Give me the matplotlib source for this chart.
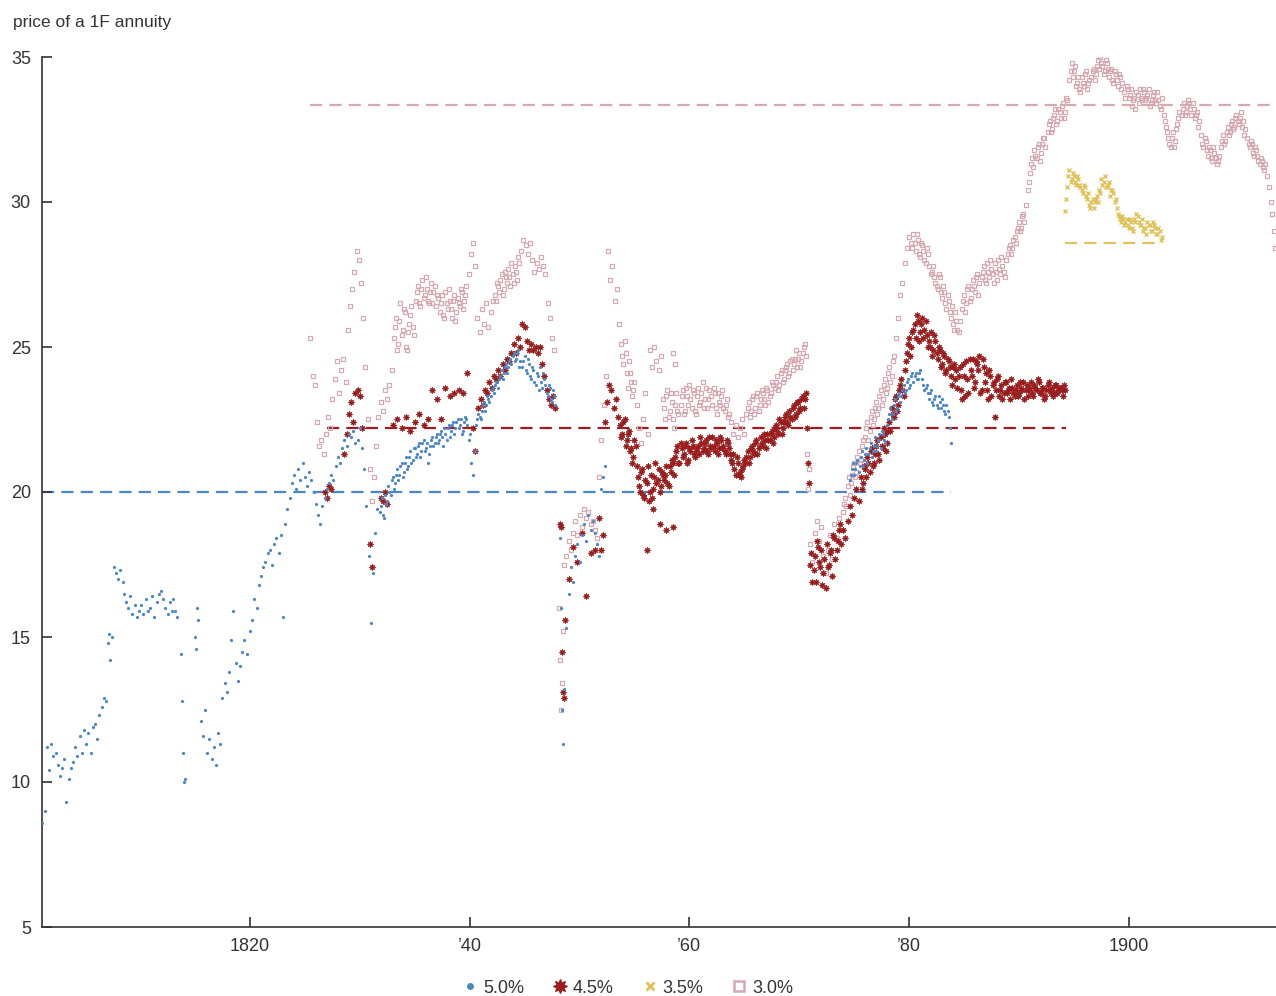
import numpy as np
import matplotlib.pyplot as plt
from matplotlib.lines import Line2D

plt.rcParams['font.family'] = ['Liberation Sans', 'DejaVu Sans']

# Paris rentes quotes, grouped in runs: (first year, spacing in years, prices)
rente_50 = [
    (1801.1, 0.2, [8.6, 9.0, 11.2, 10.4, 11.3, 10.9, 11.0, 10.6, 10.2, 10.5, 10.8, 9.3, 10.1, 10.5, 10.7,
                   11.2, 10.9, 11.6, 11.0, 11.8, 11.3, 11.7, 11.0, 11.9, 12.0, 11.5, 12.3, 12.6, 12.9, 12.8]),
    (1807.1, 0.1, [14.8, 15.1, 14.2, 15.0]),
    (1807.6, 0.2, [17.4, 17.2, 17.0, 17.3, 16.9]),
    (1808.5, 0.2, [16.5, 16.2, 16.0, 16.4, 15.8, 16.1, 15.7, 15.9]),
    (1810.1, 0.2, [16.1, 15.8, 16.3, 15.9, 16.0, 16.4, 15.7, 16.2, 16.5, 16.6, 16.3, 16.0, 15.8, 16.2, 15.9]),
    (1813.0, 0.2, [16.3, 15.9, 15.7]),
    (1813.7, 0.1, [14.4, 12.8, 11.0, 10.0, 10.1]),
    (1815.0, 0.1, [15.0, 14.6, 16.0, 15.6]),
    (1815.5, 0.2, [12.1, 11.6, 12.5, 11.0, 11.5, 10.8, 11.2, 10.6, 11.7, 11.3]),
    (1817.5, 0.2, [12.9, 13.4, 13.1, 13.8, 14.9, 15.9, 14.1, 13.5, 14.0, 14.5, 14.9, 14.4]),
    (1820.0, 0.2, [15.2, 15.6, 16.3, 16.0, 16.8, 17.1, 17.4, 17.6, 17.9, 18.0, 17.5, 18.2, 18.4, 17.9]),
    (1822.8, 0.2, [18.5, 15.7, 18.9, 19.4, 19.8, 20.3, 20.6, 20.1, 20.8, 20.4, 21.0, 20.5, 20.2, 20.7, 20.4]),
    (1825.8, 0.2, [20.0, 19.6, 19.2, 18.9, 19.5, 19.8, 20.1]),
    (1827.2, 0.2, [20.3, 20.6, 20.4, 20.9, 21.2, 21.0, 21.5, 21.8, 21.6, 22.0, 21.9, 22.1, 21.7, 21.8, 22.2, 21.5]),
    (1830.4, 0.2, [20.8, 19.5, 17.8, 15.5, 17.2, 18.6, 19.4]),
    (1831.8, 0.2, [19.3, 19.8, 19.1, 19.6, 20.2, 19.9, 20.5, 20.3, 20.8, 20.6, 21.0, 20.7, 21.2, 20.9,
                   21.4, 21.1, 21.5, 21.3, 21.7, 21.4, 21.8, 21.5, 21.0, 21.6, 21.9, 21.7, 22.0, 21.8,
                   22.1, 21.6, 22.0, 22.2, 21.9, 22.3, 22.0, 22.4, 22.2, 22.5, 22.1, 22.6, 22.3, 22.0]),
    (1831.9, 0.2, [19.5, 19.2, 19.9, 19.7, 20.0, 20.4, 20.1, 20.6, 20.4, 20.9, 20.5, 21.0, 20.8, 21.2,
                   21.0, 21.5, 21.2, 21.6, 21.2, 21.7, 21.4, 21.7, 21.3, 21.8, 21.6, 21.9, 21.7, 22.0,
                   21.9, 22.2, 21.8, 22.3, 22.1, 22.4, 22.2, 22.5, 22.3, 22.0, 22.4, 22.5, 21.8]),
    (1840.1, 0.2, [21.0, 20.6, 21.4]),
    (1840.6, 0.2, [22.3, 22.7, 22.5, 23.0, 22.8, 23.3, 23.1, 23.5, 23.4, 23.8, 23.6, 24.0, 23.9, 24.3,
                   24.1, 24.5, 24.4, 24.8, 24.6, 24.9, 24.5]),
    (1840.7, 0.2, [22.5, 22.6, 22.8, 23.1, 23.0, 23.2, 23.3, 23.6, 23.7, 23.8, 23.9, 24.2, 24.1, 24.4,
                   24.3, 24.6, 24.7, 24.5, 24.8, 24.3]),
    (1844.8, 0.2, [24.3, 24.7, 24.1, 24.4, 23.9, 24.2, 23.7, 24.0, 24.3, 23.6, 23.9, 23.4, 23.7, 23.2, 23.5, 23.0]),
    (1844.9, 0.2, [24.5, 24.2, 24.6, 24.0, 24.3, 23.8, 24.1, 23.5, 23.8, 24.1, 23.7, 23.3, 23.6, 23.1, 23.3]),
    (1848.2, 0.1, [18.4, 16.0, 12.5, 11.3, 13.2]),
    (1848.8, 0.2, [15.3, 16.5, 17.4, 16.9, 17.8, 18.2, 17.6, 18.5, 18.9, 18.3, 19.2, 18.7, 19.0, 18.6, 18.2, 17.8]),
    (1852.0, 0.15, [20.1, 20.5, 20.9]),
    (1874.6, 0.2, [20.4, 20.8, 20.6, 21.0, 20.7, 21.2, 20.9, 21.3, 21.0, 21.5, 21.2, 21.6, 21.4, 21.8, 21.5, 22.0, 21.7]),
    (1874.7, 0.2, [20.6, 21.0, 20.8, 21.1, 20.9, 21.4, 21.1, 21.5, 21.3, 21.7, 21.4, 21.9, 21.6, 22.0, 22.1, 21.8]),
    (1878.0, 0.2, [22.3, 22.7, 22.5, 23.0, 22.8, 23.3, 23.1, 23.5, 23.4, 23.8, 23.6, 24.0, 23.8, 24.1, 23.9, 24.2]),
    (1878.1, 0.2, [22.5, 22.9, 22.7, 23.2, 22.9, 23.4, 23.3, 23.7, 23.5, 23.9, 23.7, 24.1, 24.0, 23.9, 24.1]),
    (1881.2, 0.2, [23.9, 23.5, 23.7, 23.2, 23.5, 23.0, 23.3, 22.9, 23.1, 23.2, 22.8, 23.0, 22.6]),
    (1881.3, 0.2, [23.7, 23.6, 23.4, 23.4, 23.1, 23.2, 23.0, 23.3, 22.9, 23.0, 22.7, 22.8]),
    (1883.7, 0.1, [22.2, 21.7]),
]

rente_45 = [
    (1826.8, 0.2, [20.0, 19.8, 20.2, 20.1]),
    (1828.6, 0.2, [21.3, 22.0, 22.7, 23.1, 22.4]),
    (1829.6, 0.2, [23.4, 23.5, 23.3, 22.2]),
    (1830.9, 0.2, [18.2, 17.4]),
    (1831.9, 0.2, [19.8, 19.7, 20.0, 19.6]),
    (1833.0, 0.4, [22.3, 22.5, 22.2, 22.6, 22.1, 22.4, 22.7, 22.3, 22.5]),
    (1836.6, 0.4, [23.5, 23.2, 22.5, 23.6, 23.3, 23.4]),
    (1839.0, 0.4, [23.5, 23.4, 24.1]),
    (1840.3, 0.2, [22.2, 21.4]),
    (1840.8, 0.2, [22.9, 23.2, 23.0, 23.5, 23.4, 23.8, 23.6, 24.0, 23.9, 24.2, 24.0, 24.4, 24.2, 24.6, 24.5, 24.8]),
    (1844.0, 0.2, [25.1, 24.8, 25.3, 25.0, 25.8, 25.7, 25.2, 24.9, 25.1, 24.9, 25.0, 24.8, 25.0]),
    (1846.6, 0.2, [24.4, 24.0, 23.5, 23.2, 23.0, 23.3, 22.9]),
    (1848.2, 0.1, [18.9, 18.8, 14.5, 13.1, 12.9, 15.6]),
    (1849.0, 0.4, [17.0, 18.1, 17.6, 18.6, 16.4, 17.9, 18.0]),
    (1851.8, 0.15, [19.1, 18.0, 18.5]),
    (1852.3, 0.2, [22.4, 23.1, 23.7, 23.5, 22.9, 23.2, 22.6]),
    (1853.7, 0.2, [22.3, 22.0, 22.5, 21.8, 22.1, 21.5, 21.2, 21.6]),
    (1853.8, 0.2, [21.9, 22.4, 21.6, 22.0, 21.4, 21.0, 21.8, 20.9]),
    (1855.3, 0.2, [20.5, 20.0, 20.8, 19.8, 20.3, 19.7, 20.6, 20.1, 21.0, 20.4, 20.0, 20.7]),
    (1855.4, 0.2, [20.2, 20.7, 19.9, 20.4, 20.9, 20.0, 19.8, 20.5, 20.3, 20.8, 20.2, 20.6]),
    (1856.1, 0.6, [18.0, 19.4, 18.9, 18.7, 18.8]),
    (1857.7, 0.2, [20.4, 20.9, 20.2, 20.7, 21.0]),
    (1857.8, 0.2, [20.6, 20.3, 20.9, 21.1, 20.6]),
    (1858.7, 0.2, [21.2, 21.6, 21.0, 21.5, 21.3, 21.7, 21.1, 21.4, 21.6, 21.2, 21.5, 21.3, 21.7]),
    (1858.8, 0.2, [21.4, 21.0, 21.7, 21.2, 21.6, 21.0, 21.5, 21.8, 21.3, 21.4, 21.6, 21.9, 21.4]),
    (1861.3, 0.2, [21.5, 21.8, 21.3, 21.6, 21.9, 21.4, 21.7, 21.5, 21.8, 21.6, 21.3, 21.7]),
    (1861.4, 0.2, [21.7, 21.4, 21.9, 21.5, 21.6, 21.8, 21.3, 21.9, 21.5, 21.4, 21.8, 21.5]),
    (1863.7, 0.2, [21.3, 21.0, 20.8, 21.2, 20.6, 20.5, 20.9]),
    (1863.8, 0.2, [21.1, 21.3, 20.6, 21.0, 20.7, 20.8, 21.1]),
    (1865.1, 0.2, [21.0, 21.4, 21.2, 21.6, 21.3, 21.8, 21.5, 21.9, 21.6, 21.8, 22.0]),
    (1865.2, 0.2, [21.2, 21.0, 21.5, 21.4, 21.7, 21.3, 21.6, 21.7, 22.0, 21.5, 21.8]),
    (1867.3, 0.2, [21.8, 22.1, 21.9, 22.3, 22.0, 22.4, 22.2, 22.6, 22.4, 22.8, 22.5, 23.0, 22.7, 23.1,
                   22.9, 23.3, 23.2]),
    (1867.4, 0.2, [22.0, 21.7, 22.2, 22.1, 22.5, 22.0, 22.4, 22.7, 22.3, 22.6, 22.9, 22.6, 23.1, 22.8,
                   23.2, 22.9, 23.4]),
    (1870.7, 0.1, [22.2, 21.0, 20.3]),
    (1871.0, 0.2, [17.5, 16.9, 17.8, 18.3, 17.6, 18.0, 17.2, 16.7, 17.4, 17.9, 17.1, 18.4, 18.0, 18.7]),
    (1871.1, 0.2, [17.9, 17.3, 16.9, 18.1, 17.4, 16.8, 17.7, 18.2, 17.5, 18.0, 18.5, 17.7, 18.3, 18.9]),
    (1873.8, 0.2, [18.2, 18.7, 18.4, 19.0, 19.5, 19.2, 19.8, 20.1, 19.7]),
    (1875.6, 0.2, [20.5, 20.3, 20.8, 21.2, 20.7, 21.5, 21.0, 21.6, 21.3, 21.9, 21.5, 22.0, 21.7]),
    (1875.7, 0.2, [20.1, 20.9, 20.5, 21.0, 21.4, 20.9, 21.3, 21.8, 21.1, 21.6, 22.2, 21.4, 22.1]),
    (1878.2, 0.2, [22.4, 22.9, 22.6, 23.3, 23.0, 23.7, 23.5, 24.2]),
    (1878.3, 0.2, [22.1, 22.7, 23.2, 22.8, 23.5, 23.9, 23.3, 24.5]),
    (1879.8, 0.2, [24.8, 25.3, 25.0, 25.6, 25.3, 25.9, 25.5, 26.0, 25.6, 25.4]),
    (1879.9, 0.2, [25.1, 24.7, 25.5, 25.8, 26.1, 25.2, 25.8, 25.3, 25.9, 25.0]),
    (1881.8, 0.2, [25.2, 25.5, 24.9, 25.2, 24.6, 24.9, 24.4, 24.7, 24.2, 24.5, 24.0, 24.3, 23.9]),
    (1881.9, 0.2, [25.0, 24.7, 25.4, 24.8, 25.0, 24.3, 24.8, 24.1, 24.6, 24.3, 23.7, 24.4, 24.2]),
    (1884.4, 0.2, [23.6, 24.3, 23.2, 24.0, 24.5, 23.4, 24.2, 24.6, 23.8, 24.4, 24.7, 23.5, 24.3, 24.1,
                   23.2, 24.0, 23.7, 22.6, 23.9]),
    (1884.5, 0.2, [24.0, 23.5, 24.4, 23.3, 23.9, 24.6, 24.0, 23.6, 24.5, 24.2, 23.4, 24.6, 23.8, 23.5,
                   24.2, 23.3, 23.8, 23.5, 24.0]),
    (1888.2, 0.2, [23.3, 23.7, 23.4, 23.8, 23.5, 23.2, 23.6, 23.3, 23.7, 23.4, 23.6, 23.8, 23.5, 23.3,
                   23.6, 23.4, 23.7, 23.5, 23.8, 23.4, 23.6, 23.3, 23.7, 23.5, 23.6, 23.4, 23.7, 23.5,
                   23.6, 23.3, 23.5]),
    (1888.3, 0.2, [23.5, 23.2, 23.8, 23.4, 23.6, 23.9, 23.4, 23.5, 23.3, 23.8, 23.5, 23.2, 23.7, 23.5,
                   23.8, 23.3, 23.6, 23.9, 23.4, 23.6, 23.2, 23.5, 23.8, 23.4, 23.3, 23.7, 23.4, 23.6,
                   23.5, 23.7]),
]

rente_35 = [
    (1894.2, 0.2, [29.7, 30.5, 31.1, 30.8, 30.9, 30.6, 30.8, 30.5, 30.3, 30.5, 30.1, 29.9, 30.0, 29.8,
                   30.1, 30.0, 30.3, 30.6, 30.9, 30.5, 30.7, 30.4, 30.3, 30.1, 29.6, 29.4, 29.5, 29.2,
                   29.4, 29.1, 29.3, 29.0, 29.3, 29.5, 29.2, 29.4, 29.1, 28.9, 29.2, 29.0, 29.3, 29.1,
                   28.9, 29.0, 28.8]),
    (1894.3, 0.2, [30.1, 30.9, 30.7, 31.0, 30.7, 30.9, 30.6, 30.4, 30.6, 30.2, 30.3, 29.8, 30.1, 30.0,
                   30.2, 30.4, 30.8, 30.7, 30.5, 30.6, 30.2, 30.4, 30.0, 29.8, 29.5, 29.3, 29.4, 29.3,
                   29.2, 29.4, 29.1, 29.4, 29.6, 29.3, 29.2, 29.0, 29.1, 29.3, 29.2, 29.0, 29.2, 28.9,
                   29.1, 28.7]),
]

rente_30 = [
    (1825.5, 0.2, [25.3, 24.0, 23.7, 22.4, 21.6]),
    (1826.5, 0.2, [21.8, 21.3, 22.0, 22.6, 22.2]),
    (1827.5, 0.2, [23.2, 23.9, 24.5, 23.4, 24.2, 24.6, 23.8]),
    (1828.9, 0.2, [25.6, 26.4, 27.0, 27.6, 28.3, 28.0, 27.2, 26.0]),
    (1830.5, 0.2, [24.3, 22.5, 20.8, 19.7, 20.5, 21.6]),
    (1831.7, 0.2, [22.6, 23.1, 22.8, 23.5, 23.2, 23.7, 24.2]),
    (1833.1, 0.2, [25.3, 26.0, 25.1, 26.5, 25.6, 26.2, 24.9, 25.8, 26.4, 25.4]),
    (1833.2, 0.2, [25.7, 24.9, 25.9, 25.4, 26.3, 25.0, 25.5, 26.1, 25.7]),
    (1835.1, 0.2, [26.6, 27.1, 26.4, 27.3, 26.8, 27.0, 26.5, 27.2, 26.9, 26.4, 26.7]),
    (1835.2, 0.2, [26.9, 26.5, 27.0, 26.7, 27.4, 26.6, 26.9, 26.5, 27.1, 26.8]),
    (1837.3, 0.2, [26.2, 26.8, 26.0, 26.5, 27.0, 26.3, 26.6, 25.9, 26.7, 26.4, 26.9, 26.6, 27.1]),
    (1837.4, 0.2, [26.5, 26.1, 26.9, 26.3, 26.6, 26.0, 26.8, 26.2, 26.5, 27.0, 26.3, 26.8]),
    (1839.9, 0.2, [27.5, 28.2, 28.6, 27.8]),
    (1840.7, 0.2, [26.0, 25.5, 26.3, 25.8, 26.5, 25.7, 26.2, 26.6]),
    (1842.3, 0.2, [26.8, 27.2, 26.9, 27.5, 27.0, 27.4, 27.7, 27.1, 27.5, 27.8, 27.3, 27.9]),
    (1842.4, 0.2, [26.6, 27.1, 27.3, 26.8, 27.6, 27.2, 27.4, 27.9, 27.2, 27.6, 28.1]),
    (1844.7, 0.2, [28.3, 28.7, 28.5, 28.2, 28.6]),
    (1845.7, 0.2, [28.0, 27.6, 27.9, 27.7, 28.1, 27.8, 27.5]),
    (1847.1, 0.2, [26.5, 26.0, 25.3, 24.9]),
    (1848.1, 0.1, [16.0, 14.2, 12.5, 13.4, 15.2, 17.5]),
    (1848.8, 0.2, [17.8, 18.3, 18.0, 18.6, 19.0, 18.5, 19.2, 18.8, 19.4, 19.1, 19.3, 18.9, 19.0, 18.7, 18.4]),
    (1851.8, 0.2, [20.5, 21.8, 23.0, 24.0]),
    (1852.6, 0.2, [28.3, 27.3, 27.8, 26.6, 27.0, 25.8]),
    (1853.8, 0.2, [25.1, 24.4, 24.8, 23.6, 24.1, 23.3, 23.8]),
    (1853.9, 0.2, [24.7, 25.2, 24.1, 24.5, 23.8, 23.5]),
    (1855.2, 0.2, [23.0, 22.2, 21.7, 22.5, 23.4, 22.0]),
    (1856.4, 0.2, [24.9, 24.3, 25.0, 24.5, 24.2, 24.7]),
    (1857.6, 0.2, [23.2, 22.5, 23.5, 22.8, 23.1, 22.2, 23.4, 22.7]),
    (1857.7, 0.2, [22.9, 23.3, 22.6, 23.4, 22.5, 23.0, 22.8]),
    (1858.5, 0.2, [24.8, 24.4]),
    (1859.2, 0.2, [23.0, 23.5, 22.8, 23.3, 23.7, 22.9, 23.4, 22.7, 23.6, 23.1, 23.8, 23.2, 22.9, 23.5]),
    (1859.3, 0.2, [23.3, 22.7, 23.6, 23.0, 23.2, 23.5, 22.8, 23.3, 23.0, 23.4, 22.9, 23.6, 23.2]),
    (1862.0, 0.2, [23.3, 23.6, 22.9, 23.4, 23.0, 23.5, 22.8, 23.2, 22.7]),
    (1862.1, 0.2, [23.0, 23.4, 22.7, 23.1, 23.3, 22.9, 23.0, 22.6]),
    (1863.8, 0.2, [22.4, 22.0, 22.3, 21.9, 22.2, 22.5, 22.0]),
    (1865.2, 0.2, [22.7, 23.1, 22.8, 23.3, 22.9, 23.4, 23.0, 23.5, 23.2, 23.6, 23.1, 23.4, 23.7]),
    (1865.3, 0.2, [22.9, 22.6, 23.2, 22.7, 23.3, 22.8, 23.2, 23.4, 23.0, 23.5, 23.3, 23.8]),
    (1867.8, 0.2, [23.6, 24.0, 23.7, 24.2, 23.9, 24.3, 24.0, 24.5, 24.2, 24.6, 24.3, 24.8, 24.5, 25.0, 24.7]),
    (1867.9, 0.2, [23.8, 23.5, 24.1, 23.8, 24.2, 24.4, 24.1, 24.6, 24.4, 24.9, 24.6, 24.3, 24.8, 25.1]),
    (1870.7, 0.1, [21.3, 20.1, 20.8]),
    (1871.0, 0.2, [18.2, 17.6, 18.6, 19.0, 18.3, 18.8, 17.8, 17.2, 18.0, 18.5, 17.7, 18.9, 18.4, 19.1, 18.7]),
    (1874.0, 0.2, [19.3, 19.8, 20.2, 19.9, 20.6, 21.0, 20.7, 21.4, 21.1, 21.8]),
    (1874.1, 0.2, [19.6, 19.5, 20.5, 20.3, 20.9, 20.5, 21.2, 21.0, 21.6]),
    (1876.0, 0.2, [21.9, 22.4, 22.1, 22.8, 22.5, 23.1, 22.9, 23.5, 23.2, 23.9, 23.6, 24.3, 24.0, 24.7]),
    (1876.1, 0.2, [22.2, 21.8, 22.6, 22.3, 22.9, 22.7, 23.3, 23.0, 23.7, 23.4, 24.1, 23.8, 24.5]),
    (1878.8, 0.2, [25.3, 26.0, 26.8, 27.2, 27.9, 28.4, 28.8]),
    (1880.2, 0.2, [28.6, 28.9, 28.3, 28.7, 28.1, 28.5, 28.0, 28.4, 27.8]),
    (1880.3, 0.2, [28.4, 28.6, 28.9, 28.2, 28.6, 28.3, 27.9, 28.2]),
    (1882.0, 0.2, [27.5, 27.8, 27.2, 27.0, 27.4, 26.7, 26.9, 26.3, 26.6, 26.0, 25.8, 26.2, 25.6, 25.9]),
    (1882.1, 0.2, [27.6, 27.4, 27.1, 27.5, 26.9, 27.1, 26.5, 26.8, 26.2, 26.4, 25.6, 25.9, 25.5]),
    (1884.8, 0.2, [26.3, 26.8, 26.5, 27.1, 26.7, 27.3, 26.9, 27.5, 27.2]),
    (1884.9, 0.2, [26.6, 26.2, 27.0, 26.6, 27.0, 27.1, 27.4, 26.8]),
    (1886.6, 0.2, [27.4, 27.8, 27.2, 27.6, 28.0, 27.5, 27.9, 27.3, 27.7, 28.1, 27.6, 28.0]),
    (1886.7, 0.2, [27.6, 27.3, 27.9, 27.4, 27.7, 27.2, 27.6, 28.0, 27.5, 27.8, 27.4]),
    (1889.0, 0.2, [28.2, 28.5, 28.4, 28.8, 29.0, 29.3, 29.1, 29.6, 29.9]),
    (1889.1, 0.2, [28.4, 28.2, 28.7, 28.6, 29.1, 29.0, 29.5, 29.3]),
    (1890.8, 0.2, [30.4, 31.0, 31.5, 31.8, 31.5, 32.0, 31.7, 32.2, 31.9]),
    (1890.9, 0.2, [30.7, 31.3, 31.2, 31.6, 31.9, 31.4, 32.0, 32.2]),
    (1892.6, 0.2, [32.4, 32.8, 32.5, 33.0, 32.7, 33.2, 32.9, 33.4, 33.1, 33.5]),
    (1892.7, 0.2, [32.7, 32.4, 32.9, 33.2, 32.8, 33.1, 33.3, 32.9, 33.6]),
    (1894.6, 0.2, [34.2, 34.8, 34.5, 34.0, 34.3, 33.8, 34.1, 34.4, 33.9, 34.2]),
    (1894.7, 0.2, [34.5, 34.3, 34.7, 34.1, 33.9, 34.3, 34.0, 34.5, 34.1]),
    (1896.6, 0.2, [34.3, 34.6, 34.4, 34.9, 35.0, 34.7, 34.5, 34.8, 34.3, 34.6, 34.1, 34.4, 34.0, 34.3, 34.1]),
    (1896.7, 0.2, [34.5, 34.2, 34.7, 34.6, 34.8, 34.4, 34.9, 34.6, 34.5, 34.2, 34.5, 34.2, 34.4, 33.9]),
    (1899.6, 0.2, [33.8, 34.0, 33.6, 33.9, 33.5, 33.2, 33.7, 33.9, 33.5, 33.8, 33.6, 33.9, 33.4, 33.7,
                   33.5, 33.8, 33.3, 33.6]),
    (1899.7, 0.2, [33.6, 33.9, 33.7, 33.3, 33.6, 33.8, 33.4, 33.6, 33.9, 33.5, 33.7, 33.3, 33.5, 33.8,
                   33.4, 33.5, 33.2]),
    (1903.2, 0.2, [33.0, 32.6, 32.2, 31.9, 32.4, 32.1, 32.7, 33.1]),
    (1903.3, 0.2, [32.8, 32.4, 32.0, 32.2, 31.9, 32.5, 32.9]),
    (1904.8, 0.2, [33.0, 33.4, 33.1, 33.5, 33.2, 33.4, 32.9, 33.1, 32.8]),
    (1904.9, 0.2, [33.2, 33.0, 33.3, 33.4, 33.0, 33.2, 33.0, 32.6]),
    (1906.6, 0.2, [32.3, 31.9, 32.1, 31.6, 31.8, 31.4, 31.7, 31.3, 31.6]),
    (1906.7, 0.2, [32.0, 32.2, 31.8, 31.9, 31.5, 31.9, 31.5, 31.4]),
    (1908.4, 0.2, [31.9, 32.3, 32.1, 32.6, 32.4, 32.8, 32.6, 33.0, 32.7, 33.1, 32.8, 32.5]),
    (1908.5, 0.2, [32.1, 32.0, 32.4, 32.3, 32.7, 32.5, 32.9, 32.8, 32.9, 32.6, 32.3]),
    (1910.8, 0.2, [32.2, 31.9, 32.0, 31.6, 31.8, 31.4, 31.5, 31.2, 31.3]),
    (1910.9, 0.2, [32.0, 32.1, 31.7, 31.9, 31.6, 31.3, 31.4, 31.1]),
    (1912.6, 0.15, [30.9, 30.5, 30.0, 29.6, 29.0, 28.4]),
]

labels = ['5.0%', '4.5%', '3.5%', '3.0%']
coupons = [5.0, 4.5, 3.5, 3.0]
# span of the par line (price = 100 / coupon) for each rente
par_from = [1801.1, 1827.0, 1894.2, 1825.5]
par_to = [1883.8, 1894.3, 1903.0, 1913.4]

colors = ['#4a86c8', '#9b1c1c', '#e2c25a', '#d6a9b1']


def expand(runs):
    years, prices = [], []
    for start, step, vals in runs:
        years.extend(start + step * np.arange(len(vals)))
        prices.extend(vals)
    return np.array(years), np.array(prices)


fig = plt.figure(figsize=(12.76, 9.96), dpi=100)
ax = fig.add_axes([42 / 1276, 69 / 996, 1 - 42 / 1276, 870 / 996])

# par lines
for c, x0, x1, col in zip(coupons, par_from, par_to, colors):
    ax.hlines(100 / c, x0, x1, colors=col, linestyles=(0, (5.5, 3.2)), linewidth=1.6, zorder=1)

x, y = expand(rente_30)
ax.plot(x, y, linestyle='none', marker='s', markersize=3.2, markerfacecolor='none',
        markeredgecolor=colors[3], markeredgewidth=0.9, zorder=2)
x, y = expand(rente_45)
ax.plot(x, y, linestyle='none', marker=(8, 1, 0), markersize=5, color=colors[1],
        markeredgewidth=0.3, zorder=3)
x, y = expand(rente_50)
ax.plot(x, y, linestyle='none', marker='o', markersize=2.3, color=colors[0],
        markeredgewidth=0, zorder=4)
x, y = expand(rente_35)
ax.plot(x, y, linestyle='none', marker='x', markersize=3.2, color=colors[2],
        markeredgewidth=1.0, zorder=4)

ax.set_xlim(1801.07, 1913.4)
ax.set_ylim(5, 35)
ax.set_yticks(range(5, 36, 5))
ax.set_xticks([1820, 1840, 1860, 1880, 1900])
ax.set_xticklabels(['1820', '\u201940', '\u201960', '\u201980', '1900'])

for side in ['top', 'right']:
    ax.spines[side].set_visible(False)
for side in ['left', 'bottom']:
    ax.spines[side].set_color('#333333')
    ax.spines[side].set_linewidth(1.2)
ax.tick_params(direction='in', length=7, width=1.2, color='#333333',
               labelsize=13, labelcolor='#333333', pad=8)

fig.text(13 / 1276, 1 - 22 / 996, 'price of a 1F annuity', fontsize=12.5, color='#333333',
         va='center', ha='left')

handles = [
    Line2D([], [], linestyle='none', marker='o', markersize=5, color=colors[0], markeredgewidth=0),
    Line2D([], [], linestyle='none', marker=(8, 1, 0), markersize=10, color=colors[1]),
    Line2D([], [], linestyle='none', marker='x', markersize=6, color=colors[2], markeredgewidth=2),
    Line2D([], [], linestyle='none', marker='s', markersize=7, markerfacecolor='none',
           markeredgecolor=colors[3], markeredgewidth=1.8),
]
leg = fig.legend(handles, labels, loc='center', bbox_to_anchor=(628 / 1276, 1 - 988 / 996), ncol=4,
                 frameon=False, fontsize=13, handlelength=0.8, handletextpad=0.3, columnspacing=1.6)
for t in leg.get_texts():
    t.set_color('#333333')

fig.savefig('out.png', dpi=100)
